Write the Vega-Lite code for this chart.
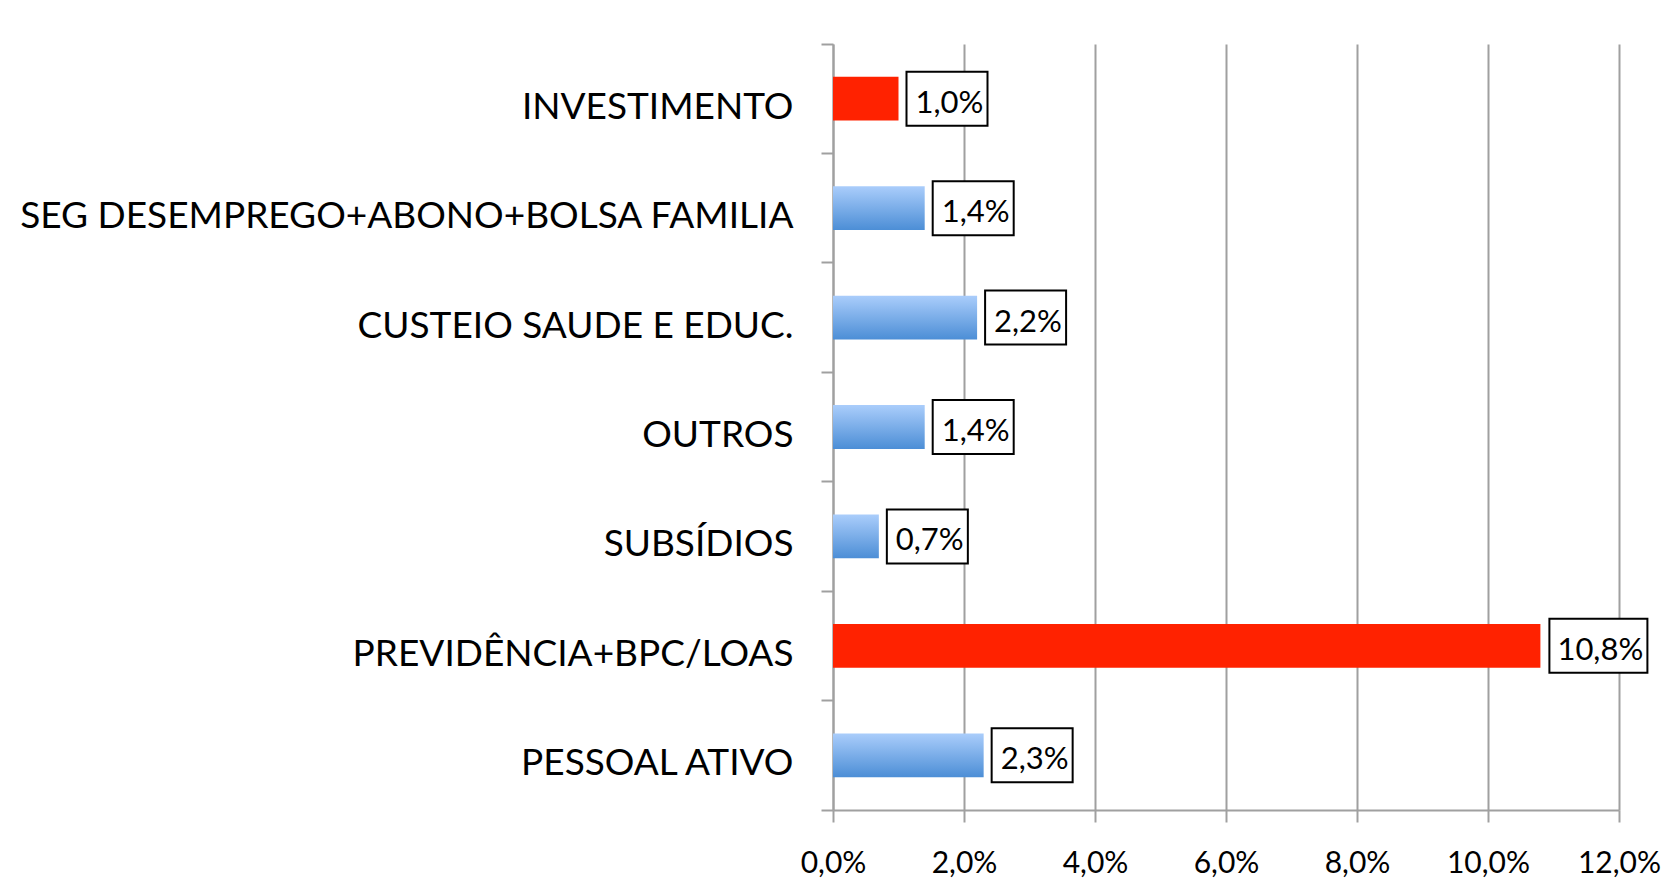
{
  "$schema": "https://vega.github.io/schema/vega-lite/v6.json",
  "autosize": {"type": "none"},
  "width": 786,
  "height": 766,
  "padding": {"left": 833, "top": 44, "right": 58, "bottom": 83},
  "background": "white",
  "config": {
    "font": "Lato",
    "view": {"stroke": null},
    "locale": {"number": {"decimal": ",", "thousands": ".", "grouping": [3], "currency": ["R$", ""]}}
  },
  "data": {
    "values": [
      {"categoria": "INVESTIMENTO", "valor": 0.010},
      {"categoria": "SEG DESEMPREGO+ABONO+BOLSA FAMILIA", "valor": 0.014},
      {"categoria": "CUSTEIO SAUDE E EDUC.", "valor": 0.022},
      {"categoria": "OUTROS", "valor": 0.014},
      {"categoria": "SUBSÍDIOS", "valor": 0.007},
      {"categoria": "PREVIDÊNCIA+BPC/LOAS", "valor": 0.108},
      {"categoria": "PESSOAL ATIVO", "valor": 0.023}
    ]
  },
  "encoding": {
    "y": {
      "field": "categoria",
      "type": "nominal",
      "sort": null,
      "title": null,
      "scale": {"paddingInner": 0, "paddingOuter": 0},
      "axis": {
        "bandPosition": 1,
        "tickExtra": true,
        "domainColor": "#a0a0a0",
        "domainWidth": 2,
        "tickColor": "#a0a0a0",
        "tickWidth": 2,
        "tickSize": 12,
        "labelPadding": 28,
        "labelFontSize": 37,
        "labelColor": "black",
        "labelFont": "Lato",
        "labelLimit": 1000,
        "labelOffset": 9,
        "grid": false
      }
    },
    "x": {
      "field": "valor",
      "type": "quantitative",
      "title": null,
      "scale": {"domain": [0, 0.12], "nice": false},
      "axis": {
        "values": [0, 0.02, 0.04, 0.06, 0.08, 0.1, 0.12],
        "format": ".1%",
        "labelFlush": false,
        "labelOverlap": false,
        "domainColor": "#a0a0a0",
        "domainWidth": 2,
        "tickColor": "#a0a0a0",
        "tickWidth": 2,
        "tickSize": 12,
        "labelPadding": 26,
        "labelFontSize": 30,
        "labelColor": "black",
        "labelFont": "Lato",
        "grid": true,
        "gridColor": "#a0a0a0",
        "gridWidth": 2
      }
    }
  },
  "layer": [
    {
      "mark": {"type": "bar", "height": {"band": 0.4}},
      "encoding": {
        "fill": {
          "condition": {
            "test": "datum.categoria === 'INVESTIMENTO' || datum.categoria === 'PREVIDÊNCIA+BPC/LOAS'",
            "value": "#FF2200"
          },
          "value": {
            "gradient": "linear",
            "x1": 0, "y1": 0, "x2": 0, "y2": 1,
            "stops": [
              {"offset": 0, "color": "#AACDFB"},
              {"offset": 1, "color": "#4C8ED6"}
            ]
          }
        }
      }
    },
    {
      "mark": {"type": "point", "filled": true, "fill": "white", "stroke": "black", "strokeWidth": 2, "opacity": 1, "size": 10000},
      "encoding": {
        "shape": {
          "condition": {"test": "datum.valor >= 0.1", "value": "M0.18,-0.54H2.14V0.54H0.18Z"},
          "value": "M0.16,-0.54H1.78V0.54H0.16Z"
        }
      }
    },
    {
      "mark": {"type": "text", "align": "left", "baseline": "middle", "dx": 17, "dy": 5, "fontSize": 31, "font": "Lato", "color": "black"},
      "encoding": {
        "text": {"field": "valor", "type": "quantitative", "format": ".1%"}
      }
    }
  ]
}
